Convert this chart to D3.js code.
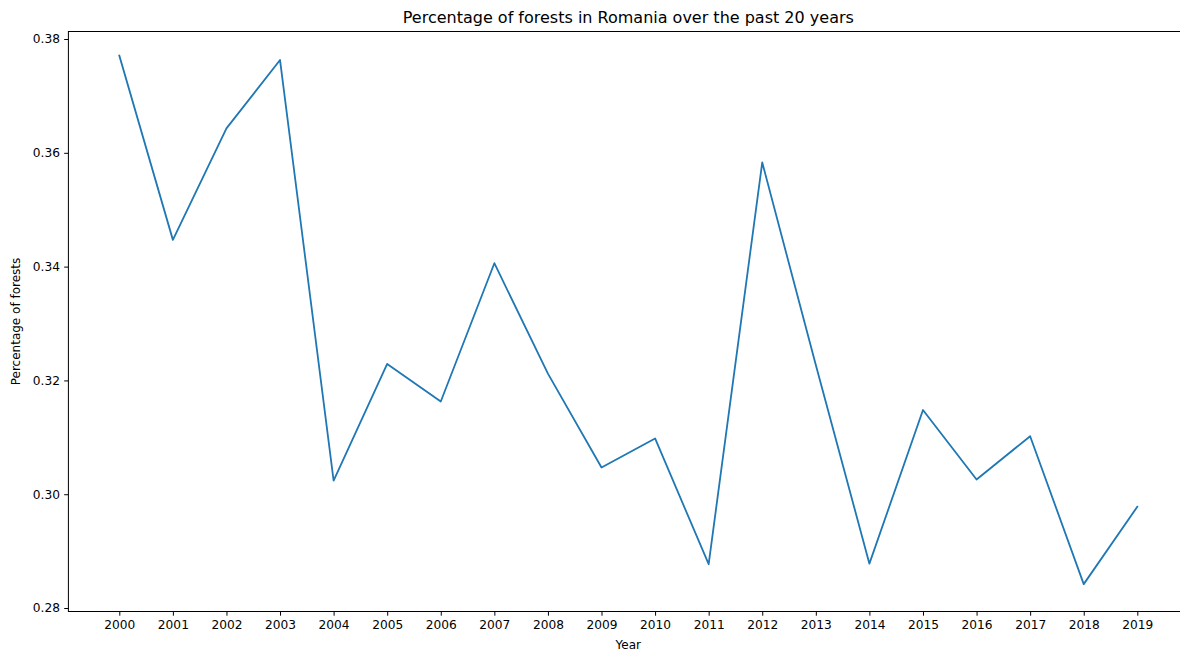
<!DOCTYPE html>
<html>
<head>
<meta charset="utf-8">
<script src="https://cdn.jsdelivr.net/npm/d3@7"></script>
<style>
  html, body { margin: 0; padding: 0; background: #fff; }
  svg { display: block; font-family: "DejaVu Sans", sans-serif; }
</style>
</head>
<body>
<svg id="chart" width="1180" height="653"></svg>
<script>
const years = [2000, 2001, 2002, 2003, 2004, 2005, 2006, 2007, 2008, 2009,
               2010, 2011, 2012, 2013, 2014, 2015, 2016, 2017, 2018, 2019];
const forestShare = [0.3771, 0.3447, 0.3643, 0.3763, 0.3024, 0.3229, 0.3163, 0.3406, 0.3212, 0.3047,
                     0.3098, 0.2877, 0.3583, 0.3227, 0.2878, 0.3148, 0.3026, 0.3102, 0.2842, 0.2978];
const yTicks = [0.28, 0.30, 0.32, 0.34, 0.36, 0.38];
const titleText = "Percentage of forests in Romania over the past 20 years";
const xLabel = "Year";
const yLabel = "Percentage of forests";

const svg = d3.select("#chart");
const mLeft = 68.4, mRight = 1188.2, mTop = 31.5, mBottom = 611.5;

const x = d3.scaleLinear().domain([1999.05, 2019.95]).range([mLeft, mRight]);
const y = d3.scaleLinear().domain([0.27939, 0.38132]).range([mBottom, mTop]);

// line
const line = d3.line().x((d, i) => x(years[i])).y(d => y(d));
svg.append("path")
  .datum(forestShare)
  .attr("d", line)
  .attr("fill", "none")
  .attr("stroke", "#1f77b4")
  .attr("stroke-width", 1.8)
  .attr("stroke-linejoin", "round")
  .attr("stroke-linecap", "square");

// axes
const xAxis = d3.axisBottom(x).tickValues(years).tickFormat(d3.format("d"))
  .tickSize(4.2).tickPadding(4.2);
const yAxis = d3.axisLeft(y).tickValues(yTicks).tickFormat(d3.format(".2f"))
  .tickSize(4.2).tickPadding(4.2);

const gx = svg.append("g").attr("transform", `translate(0,${mBottom})`).call(xAxis);
const gy = svg.append("g").attr("transform", `translate(${mLeft},0)`).call(yAxis);
[gx, gy].forEach(g => {
  g.select(".domain").remove();
  g.selectAll(".tick line").attr("stroke", "#000").attr("stroke-width", 1);
  g.selectAll(".tick text").attr("fill", "#000").style("font-size", "12.2px")
    .style("font-family", "DejaVu Sans, sans-serif");
});

// frame
svg.append("rect")
  .attr("x", mLeft).attr("y", mTop)
  .attr("width", mRight - mLeft).attr("height", mBottom - mTop)
  .attr("fill", "none").attr("stroke", "#000").attr("stroke-width", 1);

// title
svg.append("text")
  .attr("x", (mLeft + mRight) / 2).attr("y", 23)
  .attr("text-anchor", "middle")
  .style("font-size", "16px")
  .text(titleText);

// x label
svg.append("text")
  .attr("x", (mLeft + mRight) / 2).attr("y", 649)
  .attr("text-anchor", "middle")
  .style("font-size", "12px")
  .text(xLabel);

// y label
svg.append("text")
  .attr("transform", `translate(20,${(mTop + mBottom) / 2}) rotate(-90)`)
  .attr("text-anchor", "middle")
  .style("font-size", "12px")
  .text(yLabel);
</script>
</body>
</html>
